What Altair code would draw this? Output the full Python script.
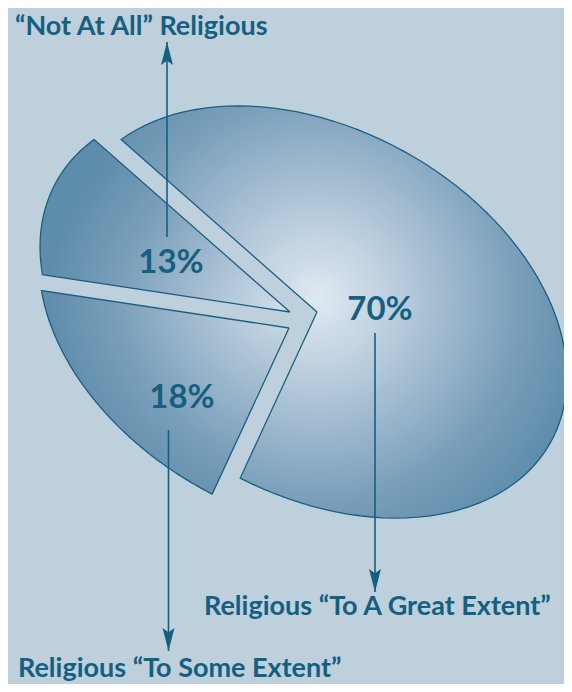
import math
import altair as alt
import pandas as pd

# ---- data ----
categories = ["To A Great Extent", "To Some Extent", "Not At All"]
percent_values = [70, 18, 13]
percent_labels = ["70%", "18%", "13%"]
outer_labels = [
    "Religious \u201cTo A Great Extent\u201d",
    "Religious \u201cTo Some Extent\u201d",
    "\u201cNot At All\u201d Religious",
]

df = pd.DataFrame({
    "category": categories,
    "pct": percent_values,
    "pct_label": percent_labels,
    "outer_label": outer_labels,
})

# ---- styling / geometry of the tilted pie ----
W, H = 556, 676
OFF = 8                      # page margin: screen coords -> chart coords
BG = "#bdd0dc"
INK = "#155f80"
EDGE = "#1b5f80"
FONT = "Lato"
N = 90
CX, CY = 303.0, 316.0        # pie centre (screen px)
A, B = 267.5, 182.7          # semi-axes of the tilted ellipse
PHI = math.radians(29.2)     # tilt
T0 = math.radians(-162.5)    # start angle of first slice
cphi, sphi = math.cos(PHI), math.sin(PHI)
# how far each slice is pulled out of the pie (px)
EXPLODE = {
    "To A Great Extent": (14, -4),
    "To Some Extent": (-14, 12),
    "Not At All": (-13, -4),
}

xscale = alt.Scale(domain=[OFF, W + OFF], nice=False, zero=False)
yscale = alt.Scale(domain=[OFF, H + OFF], nice=False, zero=False, reverse=True)

base = (
    alt.Chart(df)
    .transform_joinaggregate(total="sum(pct)")
    .transform_window(cum="sum(pct)", frame=[None, 0])
    .transform_calculate(a0=f"{T0} + 2*PI*(datum.cum - datum.pct)/datum.total")
    .transform_calculate(a1=f"{T0} + 2*PI*datum.cum/datum.total")
    .transform_calculate(idx=f"sequence(0, {N + 3})")
    .transform_flatten(["idx"])
    .transform_calculate(t=f"datum.a0 + (datum.a1 - datum.a0)*clamp(datum.idx - 1, 0, {N})/{N}")
    .transform_calculate(r=f"(datum.idx == 0 || datum.idx == {N + 2}) ? 0 : 1")
)


def grad(cx, cy, r):
    return {
        "gradient": "radial",
        "x1": cx, "y1": cy, "r1": 0,
        "x2": cx, "y2": cy, "r2": r,
        "stops": [
            {"offset": 0.0, "color": "#e0e9f1"},
            {"offset": 0.25, "color": "#bfd1e0"},
            {"offset": 0.5, "color": "#9bb6cc"},
            {"offset": 0.75, "color": "#779db9"},
            {"offset": 1.0, "color": "#5e8cab"},
        ],
    }


slice_grads = {
    "To A Great Extent": grad(0.44, 0.47, 0.62),
    "To Some Extent": grad(1.08, 0.03, 1.08),
    "Not At All": grad(1.08, 0.93, 1.08),
}

slices = []
for cat in categories:
    dx, dy = EXPLODE[cat]
    slices.append(
        base.transform_filter(alt.datum.category == cat)
        .transform_calculate(px=f"{CX + dx} + datum.r*({A}*cos(datum.t)*{cphi} - {B}*sin(datum.t)*{sphi})")
        .transform_calculate(py=f"{CY + dy} + datum.r*({A}*cos(datum.t)*{sphi} + {B}*sin(datum.t)*{cphi})")
        .mark_line(fill=slice_grads[cat], stroke=EDGE, strokeWidth=1.3, strokeJoin="miter")
        .encode(
            x=alt.X("px:Q", scale=xscale, axis=None),
            y=alt.Y("py:Q", scale=yscale, axis=None),
            order=alt.Order("idx:Q"),
        )
    )


def text_layer(cat, field, x, y, size, align="center"):
    return (
        alt.Chart(df)
        .transform_filter(alt.datum.category == cat)
        .mark_text(align=align, baseline="alphabetic", font=FONT, fontSize=size,
                   fontWeight="bold", color=INK)
        .encode(x=alt.value(x - OFF), y=alt.value(y - OFF), text=f"{field}:N")
    )


def arrow(cat, x, y_from, y_tip, up):
    rule = (
        alt.Chart(df)
        .transform_filter(alt.datum.category == cat)
        .mark_rule(color=INK, strokeWidth=1.6)
        .encode(x=alt.value(x - OFF), y=alt.value(y_from - OFF), y2=alt.value(y_tip - OFF))
    )
    L = 23
    if up:
        shape = "M0,-1L0.52,1L0,0.62L-0.52,1Z"
        cy = y_tip + L / 2
    else:
        shape = "M0,1L0.52,-1L0,-0.62L-0.52,-1Z"
        cy = y_tip - L / 2
    head = (
        alt.Chart(df)
        .transform_filter(alt.datum.category == cat)
        .mark_point(shape=shape, filled=True, size=L * L, color=INK, opacity=1, strokeWidth=0)
        .encode(x=alt.value(x - OFF), y=alt.value(cy - OFF))
    )
    return [rule, head]


layers = slices + [
    text_layer("To A Great Extent", "pct_label", 380, 320, 33),
    text_layer("To Some Extent", "pct_label", 182, 408, 33),
    text_layer("Not At All", "pct_label", 171, 273, 33),
    text_layer("Not At All", "outer_label", 15, 35, 27, align="left"),
    text_layer("To A Great Extent", "outer_label", 204, 615, 27, align="left"),
    text_layer("To Some Extent", "outer_label", 18, 677, 27, align="left"),
]
layers += arrow("Not At All", 167, 237, 42, True)
layers += arrow("To Some Extent", 168.5, 430, 651, False)
layers += arrow("To A Great Extent", 375, 333, 592, False)

chart = (
    alt.layer(*layers)
    .properties(width=W, height=H, padding=0, autosize=alt.AutoSizeParams(type="none"))
    .configure(background=BG)
    .configure_view(strokeWidth=0)
)

chart.save("out.html", embed_options={"renderer": "svg", "actions": False})
